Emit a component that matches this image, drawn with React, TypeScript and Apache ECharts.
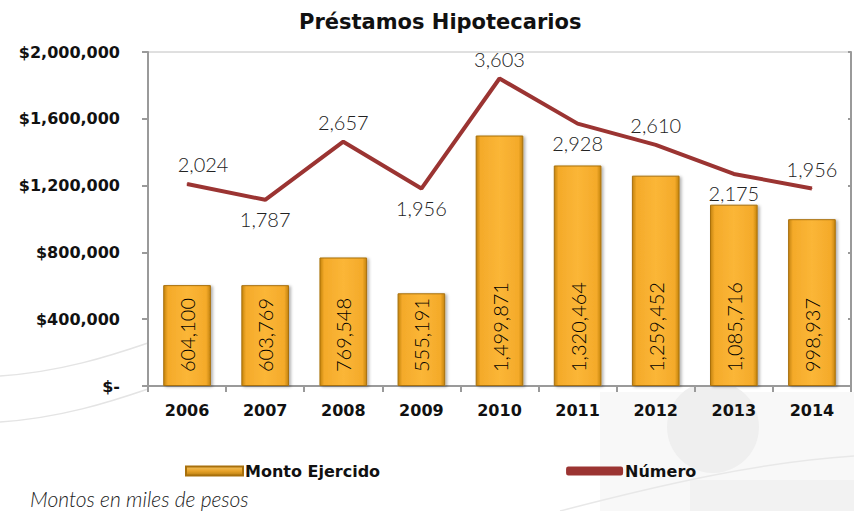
import React, { useEffect, useRef } from "react";
import * as echarts from "echarts";

const years = ["2006", "2007", "2008", "2009", "2010", "2011", "2012", "2013", "2014"];
const montoEjercido = [604100, 603769, 769548, 555191, 1499871, 1320464, 1259452, 1085716, 998937];
const numero = [2024, 1787, 2657, 1956, 3603, 2928, 2610, 2175, 1956];
const numeroLabelPos = ["top", "bottom", "top", "bottom", "top", "bottom", "top", "bottom", "top"];
const leftAxisTicks = { min: 0, max: 2000000, interval: 400000 };
const rightAxisTicks = { min: -1000, max: 4000, interval: 1000 };

const fmt = (v: number) => v.toLocaleString("en-US");

export default function App() {
  const ref = useRef<HTMLDivElement>(null);
  useEffect(() => {
    if (!ref.current) return;
    const chart = echarts.init(ref.current, null, { renderer: "svg" });
    const barColor = new echarts.graphic.LinearGradient(0, 0, 1, 0, [
      { offset: 0, color: "#c4840e" },
      { offset: 0.09, color: "#f4aa2a" },
      { offset: 0.5, color: "#fbb637" },
      { offset: 0.91, color: "#f4aa2a" },
      { offset: 1, color: "#c4840e" },
    ]);
    const legendBarColor = new echarts.graphic.LinearGradient(0, 0, 0, 1, [
      { offset: 0, color: "#f0c060" },
      { offset: 0.5, color: "#e8a32a" },
      { offset: 1, color: "#b98012" },
    ]);
    chart.setOption({
      animation: false,
      backgroundColor: "#ffffff",
      title: {
        text: "Préstamos Hipotecarios",
        left: 294,
        top: 6,
        textStyle: { fontFamily: "DejaVu Sans", fontWeight: "bold", fontSize: 21, color: "#111" },
      },
      graphic: [
        { type: "rect", z: -10, shape: { x: 600, y: 392, width: 254, height: 119 }, style: { fill: "#f8f8f8" } },
        { type: "circle", z: -9, shape: { cx: 713, cy: 427, r: 46 }, style: { fill: "#efefef" } },
        { type: "rect", z: -9, shape: { x: 690, y: 480, width: 164, height: 31 }, style: { fill: "#f2f2f2" } },
        {
          type: "bezierCurve", z: -8,
          shape: { x1: 0, y1: 376, x2: 148, y2: 343, cpx1: 60, cpy1: 372, cpx2: 110, cpy2: 356 },
          style: { stroke: "#e4e4e4", lineWidth: 1.5, fill: "none" },
        },
        {
          type: "bezierCurve", z: -8,
          shape: { x1: 0, y1: 422, x2: 148, y2: 389, cpx1: 60, cpy1: 418, cpx2: 110, cpy2: 402 },
          style: { stroke: "#e4e4e4", lineWidth: 1.5, fill: "none" },
        },
        {
          type: "bezierCurve", z: -8,
          shape: { x1: 560, y1: 511, x2: 854, y2: 456, cpx1: 660, cpy1: 485, cpx2: 760, cpy2: 462 },
          style: { stroke: "#e8e8e8", lineWidth: 1.5, fill: "none" },
        },
        {
          type: "text", left: 30, top: 488,
          style: { text: "Montos en miles de pesos", fontFamily: "Lato", fontStyle: "italic", fontWeight: 300, fontSize: 21, fill: "#222" },
        },
      ],
      legend: {
        left: 180,
        top: 458,
        itemGap: 186,
        itemWidth: 57,
        itemHeight: 9,
        textStyle: { fontFamily: "DejaVu Sans", fontWeight: "bold", fontSize: 16, color: "#111", padding: [0, 0, 0, -3] },
        data: [
          { name: "Monto Ejercido", icon: "rect", itemStyle: { color: legendBarColor } },
          { name: "Número", icon: "roundRect", itemStyle: { color: "#9b3432" } },
        ],
      },
      grid: {
        left: 148,
        right: 3,
        top: 52,
        bottom: 125,
        show: true,
        backgroundColor: "#ffffff",
        borderColor: "#c0c0c0",
        borderWidth: 1,
      },
      xAxis: {
        type: "category",
        data: years,
        axisLine: { lineStyle: { color: "#9a9a9a", width: 2 } },
        axisTick: { show: true, length: 6, lineStyle: { color: "#9a9a9a", width: 2 } },
        axisLabel: { margin: 16, fontFamily: "DejaVu Sans", fontWeight: "bold", fontSize: 16, color: "#111" },
      },
      yAxis: [
        {
          type: "value",
          min: leftAxisTicks.min,
          max: leftAxisTicks.max,
          interval: leftAxisTicks.interval,
          axisLine: { show: true, lineStyle: { color: "#9a9a9a", width: 2 } },
          axisTick: { show: true, length: 6, lineStyle: { color: "#9a9a9a", width: 2 } },
          splitLine: { show: false },
          axisLabel: {
            margin: 28,
            fontFamily: "DejaVu Sans",
            fontWeight: "bold",
            fontSize: 16,
            color: "#111",
            formatter: (v: number) => (v === 0 ? "$-" : "$" + fmt(v)),
          },
        },
        {
          type: "value",
          position: "right",
          min: rightAxisTicks.min,
          max: rightAxisTicks.max,
          interval: rightAxisTicks.interval,
          axisLine: { show: true, lineStyle: { color: "#9a9a9a", width: 2 } },
          axisTick: { show: true, inside: true, length: 3, lineStyle: { color: "#9a9a9a", width: 2 } },
          axisLabel: { show: false },
          splitLine: { show: false },
        },
      ],
      series: [
        {
          name: "Monto Ejercido",
          type: "bar",
          yAxisIndex: 0,
          barWidth: "61%",
          data: montoEjercido,
          itemStyle: {
            color: barColor,
            borderColor: "#a8700c",
            borderWidth: 1,
            shadowColor: "rgba(0,0,0,0.3)",
            shadowBlur: 3,
            shadowOffsetX: 2,
            shadowOffsetY: 1,
          },
          label: {
            show: true,
            position: "insideBottom",
            rotate: 90,
            align: "left",
            verticalAlign: "middle",
            distance: 14,
            fontFamily: "Lato",
            fontWeight: 300,
            fontSize: 20,
            color: "#000",
            formatter: (p: any) => fmt(p.value),
          },
        },
        {
          name: "Número",
          type: "line",
          yAxisIndex: 1,
          symbol: "circle",
          symbolSize: 1,
          showSymbol: true,
          lineStyle: { color: "#9b3432", width: 4 },
          itemStyle: { color: "#9b3432" },
          data: numero.map((v, i) => ({
            value: v,
            label: {
              show: true,
              position: numeroLabelPos[i],
              offset: i === 0 ? [16, 0] : [0, 0],
            },
          })),
          label: {
            show: true,
            distance: 9,
            fontFamily: "Lato",
            fontWeight: 300,
            fontSize: 20,
            color: "#222",
            formatter: (p: any) => fmt(p.value),
          },
        },
      ],
    });
    return () => chart.dispose();
  }, []);
  return <div ref={ref} style={{ position: "fixed", left: 0, top: 0, width: 854, height: 511 }} />;
}
